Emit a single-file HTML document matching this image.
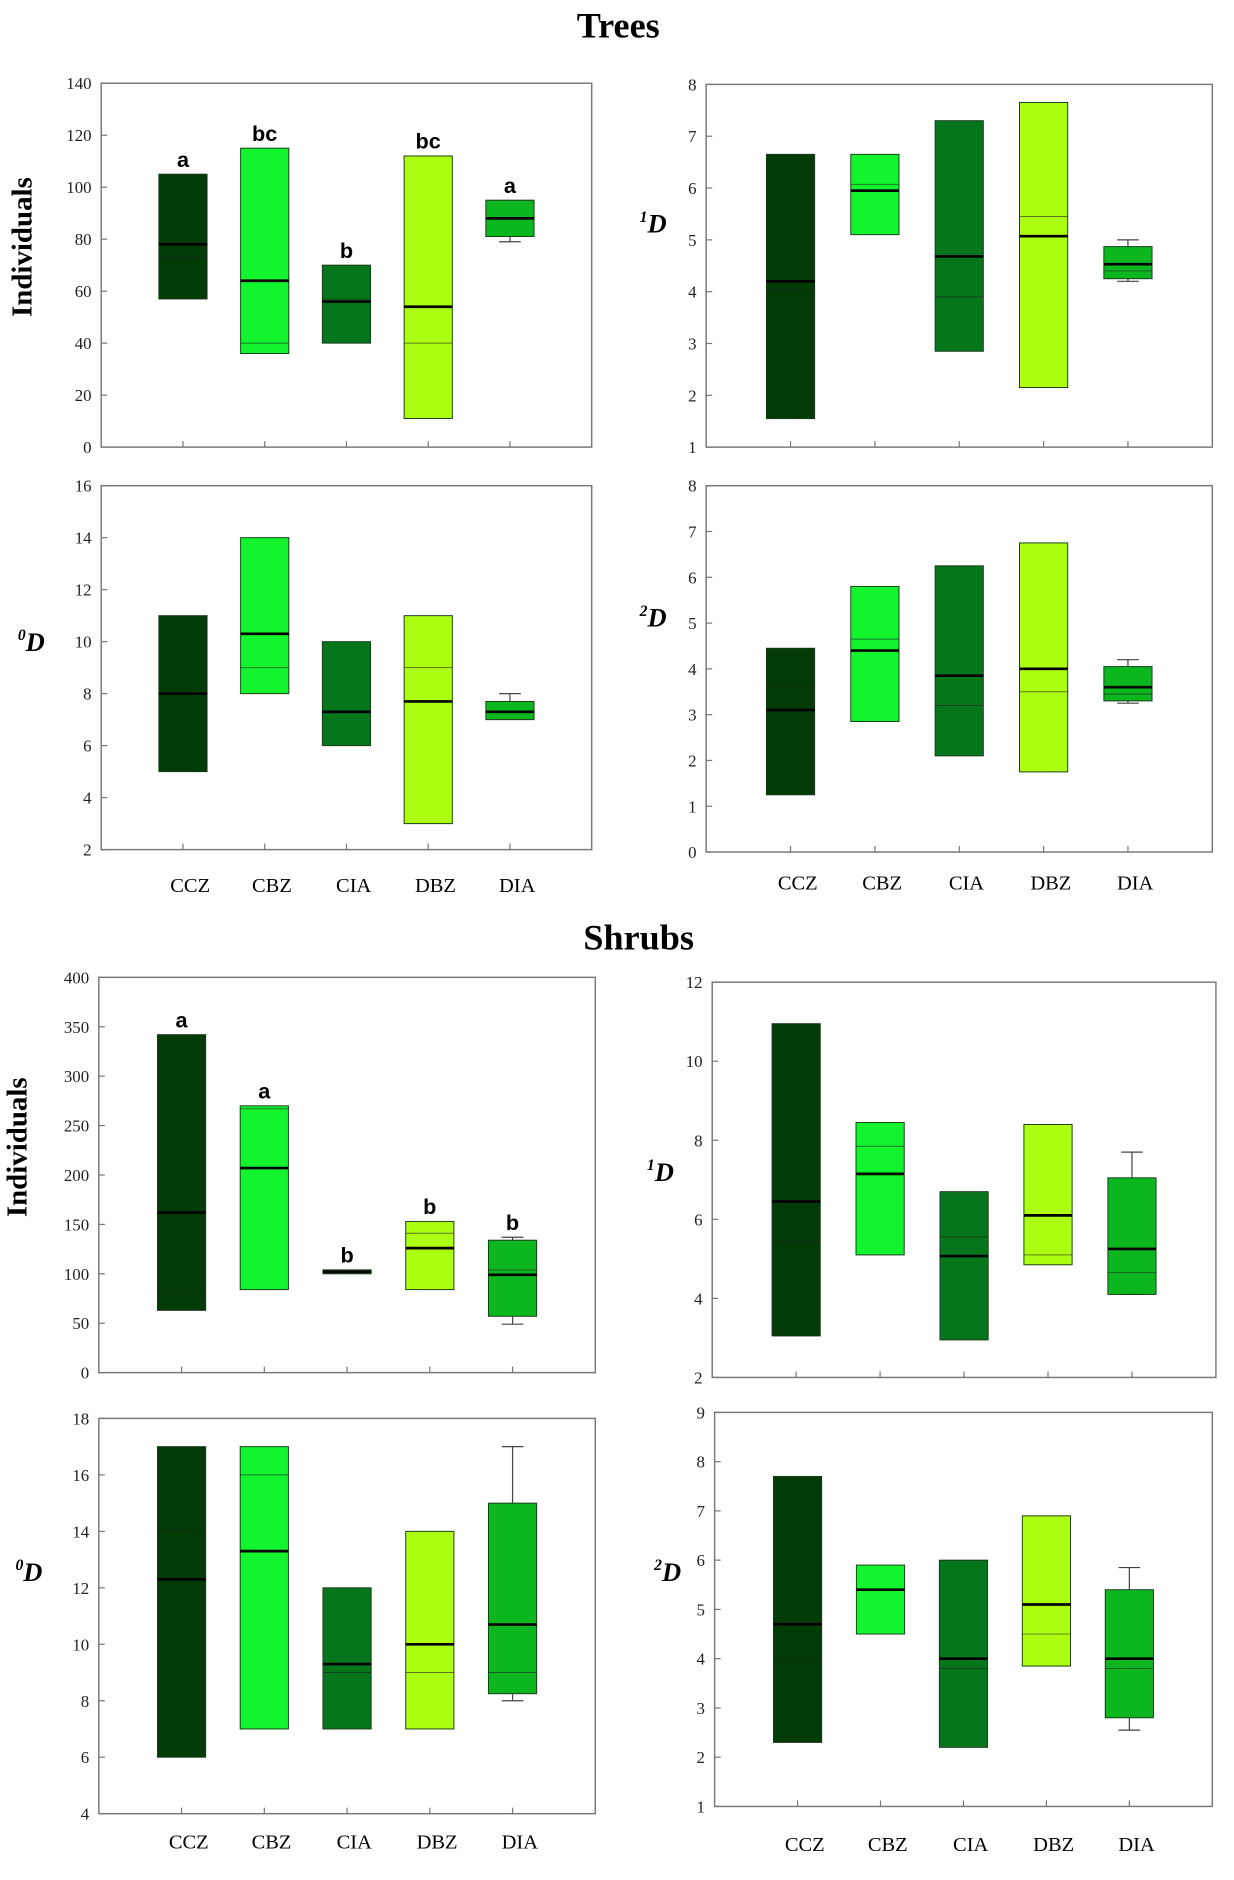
<!DOCTYPE html>
<html><head><meta charset="utf-8"><style>
html,body{margin:0;padding:0;background:#fff;}
svg{display:block;}
text{font-family:"Liberation Serif",serif;}
</style></head><body>
<svg id="fig" width="1234" height="1880" viewBox="0 0 1024 1560" xmlns="http://www.w3.org/2000/svg">
<text x="513" y="31" font-size="30" font-weight="bold" text-anchor="middle">Trees</text>
<text x="530" y="788" font-size="30" font-weight="bold" text-anchor="middle">Shrubs</text>
</svg>
<script>
const categories = ["CCZ","CBZ","CIA","DBZ","DIA"];
const colors = ["#023a08","#12f52e","#05761b","#adff12","#0cb61f"];
// Trees – Individuals
const t1Low=[57,36,40,11,81], t1High=[105,115,70,112,95], t1Med=[78,64,56,54,88], t1Thin=[73,40,57,40,null], t1WLo=[null,null,null,null,79], t1WHi=[null,null,null,null,null];
const t1Letters=["a","bc","b","bc","a"];
// Trees – 1D
const t2Low=[1.55,5.1,2.85,2.15,4.25], t2High=[6.65,6.65,7.3,7.65,4.87], t2Med=[4.2,5.95,4.68,5.07,4.53], t2Thin=[4.05,6.07,3.9,5.45,4.4], t2WLo=[null,null,null,null,4.2], t2WHi=[null,null,null,null,5.0];
// Trees – 0D
const t3Low=[5,8,6,3,7], t3High=[11,14,10,11,7.7], t3Med=[8,10.3,7.3,7.7,7.3], t3Thin=[null,9,null,9,null], t3WLo=[null,null,null,null,null], t3WHi=[null,null,null,null,8];
// Trees – 2D
const t4Low=[1.25,2.85,2.1,1.75,3.3], t4High=[4.45,5.8,6.25,6.75,4.05], t4Med=[3.1,4.4,3.85,4.0,3.6], t4Thin=[3.6,4.65,3.2,3.5,3.45], t4WLo=[null,null,null,null,3.25], t4WHi=[null,null,null,null,4.2];
// Shrubs – Individuals
const s1Low=[63,84,100,84,57], s1High=[342,270,104,153,134], s1Med=[162,207,102,126,99], s1Thin=[80,267,null,141,104], s1WLo=[null,null,null,null,49], s1WHi=[null,null,null,null,137];
const s1Letters=["a","a","b","b","b"];
// Shrubs – 1D
const s2Low=[3.05,5.1,2.95,4.85,4.1], s2High=[10.95,8.45,6.7,8.4,7.05], s2Med=[6.45,7.15,5.07,6.1,5.25], s2Thin=[5.45,7.85,5.55,5.1,4.65], s2WLo=[null,null,null,null,4.1], s2WHi=[null,null,null,null,7.7];
// Shrubs – 0D
const s3Low=[6,7,7,7,8.25], s3High=[17,17,12,14,15], s3Med=[12.3,13.3,9.3,10,10.7], s3Thin=[14,16,9,9,9], s3WLo=[null,null,null,null,8], s3WHi=[null,null,null,null,17];
// Shrubs – 2D
const s4Low=[2.3,4.5,2.2,3.85,2.8], s4High=[7.7,5.9,6.0,6.9,5.4], s4Med=[4.7,5.4,4.0,5.1,4.0], s4Thin=[4.0,null,3.8,4.5,3.8], s4WLo=[null,null,null,null,2.55], s4WHi=[null,null,null,null,5.85];
const t1Ticks=[0,20,40,60,80,100,120,140], t2Ticks=[1,2,3,4,5,6,7,8], t3Ticks=[2,4,6,8,10,12,14,16], t4Ticks=[0,1,2,3,4,5,6,7,8];
const s1Ticks=[0,50,100,150,200,250,300,350,400], s2Ticks=[2,4,6,8,10,12], s3Ticks=[4,6,8,10,12,14,16,18], s4Ticks=[1,2,3,4,5,6,7,8,9];

const NS="http://www.w3.org/2000/svg";
const svg=document.getElementById("fig");
function mk(tag,attrs,parent){const e=document.createElementNS(NS,tag);for(const k in attrs)e.setAttribute(k,attrs[k]);(parent||svg).appendChild(e);return e;}

function panel(id,x0,x1,y0,y1,ticks,low,high,med,thin,wlo,whi,ylab,labX,labY,letters,showCats,catY){
  const g=mk("g",{});
  
  
  const vmin=ticks[0], vmax=ticks[ticks.length-1];
  const ys=v=>y1-(v-vmin)/(vmax-vmin)*(y1-y0);
  const xs=i=>x0+(x1-x0)*(i+1)/6;
  const fr=mk("rect",{x:x0,y:y0,width:x1-x0,height:y1-y0,fill:"none",stroke:"#777","stroke-width":1.2},g);
  
  
  ticks.forEach(t=>{
    const y=ys(t);
    mk("line",{x1:x0,x2:x0+5,y1:y,y2:y,stroke:"#777","stroke-width":1},g);
    const tl=mk("text",{x:x0-8,y:y+5,"font-size":14,"text-anchor":"end",fill:"#222"},g);
    tl.textContent=t;
    
    
  });
  const hw=20;
  categories.forEach((c,i)=>{
    const cx=xs(i);
    mk("line",{x1:cx,x2:cx,y1:y1,y2:y1-5,stroke:"#777","stroke-width":1},g);
    if(wlo[i]!=null){mk("line",{x1:cx,x2:cx,y1:ys(low[i]),y2:ys(wlo[i]),stroke:"#444"},g);mk("line",{x1:cx-9,x2:cx+9,y1:ys(wlo[i]),y2:ys(wlo[i]),stroke:"#444"},g);}
    if(whi[i]!=null){mk("line",{x1:cx,x2:cx,y1:ys(high[i]),y2:ys(whi[i]),stroke:"#444"},g);mk("line",{x1:cx-9,x2:cx+9,y1:ys(whi[i]),y2:ys(whi[i]),stroke:"#444"},g);}
    const b=mk("rect",{x:cx-hw,y:ys(high[i]),width:2*hw,height:Math.max(2,ys(low[i])-ys(high[i])),fill:colors[i],stroke:"#1a3a1a","stroke-width":0.8},g);
    
    
    if(thin[i]!=null) mk("line",{x1:cx-hw,x2:cx+hw,y1:ys(thin[i]),y2:ys(thin[i]),stroke:"#222","stroke-width":0.8,"stroke-opacity":0.6},g);
    const m=mk("line",{x1:cx-hw,x2:cx+hw,y1:ys(med[i]),y2:ys(med[i]),stroke:"#000","stroke-width":2.2},g);
    
    
    if(letters){
      const top=whi[i]!=null?Math.min(ys(whi[i]),ys(high[i])):ys(high[i]);
      const lt=mk("text",{x:cx,y:top-6,"font-size":18,"font-weight":"bold","text-anchor":"middle",style:"font-family:'Liberation Sans',sans-serif"},g);
      lt.textContent=letters[i];
      
      
    }
    if(showCats){
      const ct=mk("text",{x:cx+6,y:catY,"font-size":17,"text-anchor":"middle"},g);
      ct.textContent=c;
      
      
    }
  });
  let yl;
  if(ylab==="Individuals"){
    yl=mk("text",{x:0,y:0,"font-size":24,"font-weight":"bold","text-anchor":"middle",transform:`translate(${labX},${labY}) rotate(-90)`},g);
    yl.textContent="Individuals";
  } else {
    yl=mk("text",{x:labX,y:labY,"font-size":22,"font-weight":"bold","font-style":"italic","text-anchor":"middle"},g);
    const s=mk("tspan",{"font-size":13,dy:-9},yl); s.textContent=ylab;
    const d=mk("tspan",{dy:9},yl); d.textContent="D";
  }
  
  
}
panel("trees-individuals",84,491,69,371,t1Ticks,t1Low,t1High,t1Med,t1Thin,t1WLo,t1WHi,"Individuals",26,205,t1Letters,false,0);
panel("trees-1d",586,1006,70,371,t2Ticks,t2Low,t2High,t2Med,t2Thin,t2WLo,t2WHi,"1",542,193,null,false,0);
panel("trees-0d",84,491,403,705,t3Ticks,t3Low,t3High,t3Med,t3Thin,t3WLo,t3WHi,"0",26,540,null,true,740);
panel("trees-2d",586,1006,403,707,t4Ticks,t4Low,t4High,t4Med,t4Thin,t4WLo,t4WHi,"2",542,520,null,true,738);
panel("shrubs-individuals",82,494,811,1139,s1Ticks,s1Low,s1High,s1Med,s1Thin,s1WLo,s1WHi,"Individuals",22,952,s1Letters,false,0);
panel("shrubs-1d",591,1009,815,1143,s2Ticks,s2Low,s2High,s2Med,s2Thin,s2WLo,s2WHi,"1",548,980,null,false,0);
panel("shrubs-0d",82,494,1177,1505,s3Ticks,s3Low,s3High,s3Med,s3Thin,s3WLo,s3WHi,"0",24,1312,null,true,1534);
panel("shrubs-2d",593,1006,1172,1499,s4Ticks,s4Low,s4High,s4Med,s4Thin,s4WLo,s4WHi,"2",554,1312,null,true,1536);
</script>
</body></html>
